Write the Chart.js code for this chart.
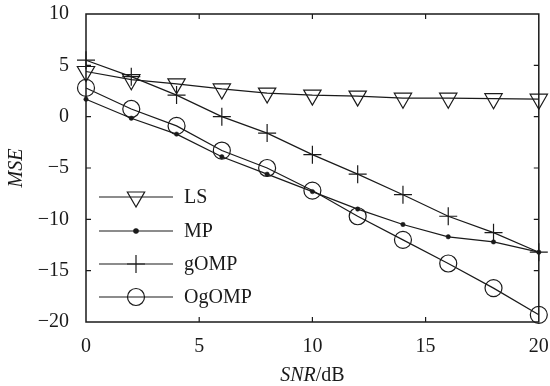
<!DOCTYPE html>
<html>
<head>
<meta charset="utf-8">
<script src="https://cdn.jsdelivr.net/npm/chart.js@4/dist/chart.umd.min.js"></script>
<style>
  html, body { margin: 0; padding: 0; background: #fff; }
  #wrap { width: 550px; height: 386px; position: relative; }
</style>
</head>
<body>
<div id="wrap"><canvas id="mseChart"></canvas></div>
<script>
// ===== Data =====
const snr = [0, 2, 4, 6, 8, 10, 12, 14, 16, 18, 20];
const lsMse = [4.4, 3.6, 3.2, 2.7, 2.3, 2.1, 2.0, 1.8, 1.8, 1.75, 1.7];
const mpMse = [1.7, -0.15, -1.7, -3.9, -5.6, -7.3, -9.0, -10.5, -11.7, -12.2, -13.2];
const gompMse = [5.5, 3.9, 2.1, 0.0, -1.6, -3.7, -5.6, -7.6, -9.7, -11.3, -13.2];
const ogompMse = [2.8, 0.75, -0.9, -3.3, -5.0, -7.2, -9.7, -12.0, -14.3, -16.7, -19.3];
const xTicks = [0, 5, 10, 15, 20];
const yTicks = [-20, -15, -10, -5, 0, 5, 10];

const INK = "#1a1a1a";
const FONT = "'Liberation Serif', 'Times New Roman', serif";

const toPoints = (ys) => snr.map((x, i) => ({ x: x, y: ys[i] }));
const minusSign = (v) => (v < 0 ? "\u2212" + Math.abs(v) : String(v));

function series(label, ys, style) {
  return Object.assign({
    label: label,
    data: toPoints(ys),
    borderColor: INK,
    borderWidth: 1.2,
    pointBorderColor: INK,
    pointBorderWidth: 1.2,
    pointBackgroundColor: "rgba(0,0,0,0)",
    clip: false,
    tension: 0,
  }, style);
}

// ===== Frame with inward ticks =====
const framePlugin = {
  id: "frame",
  afterDraw(chart) {
    const { ctx, chartArea: a, scales } = chart;
    ctx.save();
    ctx.strokeStyle = INK;
    ctx.lineWidth = 1.5;
    ctx.strokeRect(a.left, a.top, a.right - a.left, a.bottom - a.top);
    ctx.lineWidth = 1.2;
    ctx.beginPath();
    xTicks.slice(1, -1).forEach((v) => {
      const px = scales.x.getPixelForValue(v);
      ctx.moveTo(px, a.bottom); ctx.lineTo(px, a.bottom - 5);
      ctx.moveTo(px, a.top); ctx.lineTo(px, a.top + 5);
    });
    yTicks.slice(1, -1).forEach((v) => {
      const py = scales.y.getPixelForValue(v);
      ctx.moveTo(a.left, py); ctx.lineTo(a.left + 5, py);
      ctx.moveTo(a.right, py); ctx.lineTo(a.right - 5, py);
    });
    ctx.stroke();

    // axis titles
    ctx.fillStyle = INK;
    ctx.textBaseline = "middle";
    ctx.font = "italic 20px " + FONT;
    const w1 = ctx.measureText("SNR").width;
    ctx.font = "20px " + FONT;
    const w2 = ctx.measureText("/dB").width;
    const sx = (a.left + a.right) / 2 - (w1 + w2) / 2;
    ctx.textAlign = "left";
    ctx.font = "italic 20px " + FONT;
    ctx.fillText("SNR", sx, 376);
    ctx.font = "20px " + FONT;
    ctx.fillText("/dB", sx + w1, 376);

    ctx.translate(17, (a.top + a.bottom) / 2);
    ctx.rotate(-Math.PI / 2);
    ctx.textAlign = "center";
    ctx.font = "italic 20px " + FONT;
    ctx.fillText("MSE", 0, 0);
    ctx.restore();
  },
};

// ===== Legend inside the plot =====
const legendPlugin = {
  id: "insideLegend",
  afterDatasetsDraw(chart) {
    const { ctx } = chart;
    const rows = [197, 231, 264, 297];
    ctx.save();
    chart.data.datasets.forEach((ds, i) => {
      const y = rows[i];
      ctx.strokeStyle = INK;
      ctx.lineWidth = 1.2;
      ctx.beginPath();
      ctx.moveTo(99, y);
      ctx.lineTo(173, y);
      ctx.stroke();
      ctx.fillStyle = ds.pointBackgroundColor;
      ctx.strokeStyle = INK;
      Chart.helpers.drawPoint(ctx, {
        pointStyle: ds.pointStyle,
        radius: ds.pointRadius,
        rotation: ds.pointRotation || 0,
        borderWidth: 1.2,
      }, 136, y);
      ctx.fillStyle = INK;
      ctx.font = "20px " + FONT;
      ctx.textAlign = "left";
      ctx.textBaseline = "middle";
      ctx.fillText(ds.label, 184, y + 1);
    });
    ctx.restore();
  },
};

const noPad = (s) => { s.paddingLeft = 0; s.paddingRight = 0; s.paddingTop = 0; s.paddingBottom = 0; };

new Chart(document.getElementById("mseChart"), {
  type: "line",
  data: {
    datasets: [
      series("LS", lsMse, { pointStyle: "triangle", pointRadius: 10, pointRotation: 180 }),
      series("MP", mpMse, { pointStyle: "circle", pointRadius: 2.2, pointBackgroundColor: INK, pointBorderWidth: 0.5 }),
      series("gOMP", gompMse, { pointStyle: "cross", pointRadius: 9 }),
      series("OgOMP", ogompMse, { pointStyle: "circle", pointRadius: 8.5 }),
    ],
  },
  options: {
    responsive: true,
    maintainAspectRatio: false,
    animation: false,
    layout: { padding: { top: 14, right: 10, left: 0, bottom: 0 } },
    plugins: { legend: { display: false }, tooltip: { enabled: false } },
    scales: {
      x: {
        type: "linear",
        min: 0,
        max: 20,
        afterBuildTicks: (s) => { s.ticks = xTicks.map((v) => ({ value: v })); },
        afterFit: (s) => { s.height = 64; noPad(s); },
        ticks: { color: INK, font: { family: FONT, size: 20 }, padding: 13, maxRotation: 0, callback: minusSign },
        grid: { display: false, drawTicks: false },
        border: { display: false },
      },
      y: {
        type: "linear",
        min: -20,
        max: 10,
        afterBuildTicks: (s) => { s.ticks = yTicks.map((v) => ({ value: v })); },
        afterFit: (s) => { s.width = 86; noPad(s); },
        ticks: { color: INK, font: { family: FONT, size: 20 }, padding: 17, callback: minusSign },
        grid: { display: false, drawTicks: false },
        border: { display: false },
      },
    },
  },
  plugins: [framePlugin, legendPlugin],
});
</script>
</body>
</html>
